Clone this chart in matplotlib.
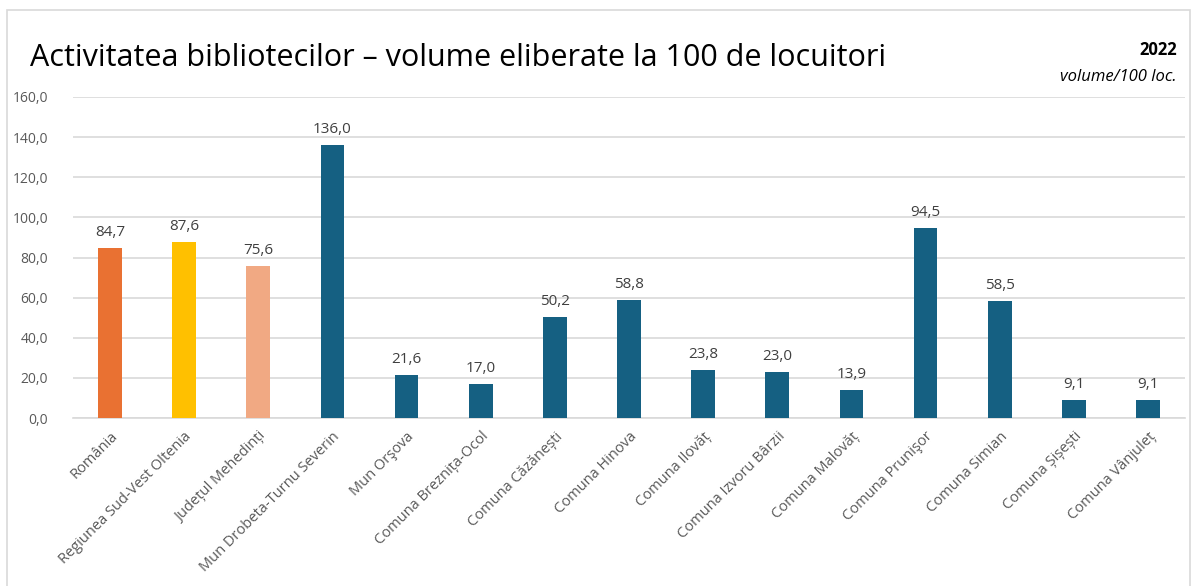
import matplotlib.pyplot as plt
from matplotlib.patches import Rectangle

categories = ["România", "Regiunea Sud-Vest Oltenia", "Județul Mehedinți",
              "Mun Drobeta-Turnu Severin", "Mun Orşova", "Comuna Breznița-Ocol",
              "Comuna Căzănești", "Comuna Hinova", "Comuna Ilovăț",
              "Comuna Izvoru Bârzii", "Comuna Malovăț", "Comuna Prunişor",
              "Comuna Simian", "Comuna Șișești", "Comuna Vânjuleț"]
values = [84.7, 87.6, 75.6, 136.0, 21.6, 17.0, 50.2, 58.8, 23.8, 23.0, 13.9, 94.5, 58.5, 9.1, 9.1]
colors = ["#E97132", "#FFC000", "#F1A983"] + ["#156082"] * 12
yticks = [0, 20, 40, 60, 80, 100, 120, 140, 160]

plt.rcParams['font.family'] = ['Open Sans', 'DejaVu Sans']

fig = plt.figure(figsize=(11.98, 5.86), dpi=100)
fig.patches.append(Rectangle((7 / 1198, -0.1), 1183 / 1198, 1 - 10 / 586 + 0.1,
                             transform=fig.transFigure, fill=False,
                             edgecolor="#D9D9D9", linewidth=1.2))

ax = fig.add_axes([73 / 1198, 1 - 418 / 586, 1112 / 1198, (418 - 97) / 586])
x = range(len(categories))
bars = ax.bar(x, values, width=0.32, color=colors, zorder=3)
for xi, v in zip(x, values):
    ax.text(xi, v + 4, f"{v:.1f}".replace(".", ","), ha="center", va="bottom",
            fontsize=11, color="#404040")

ax.set_xlim(-0.5, len(categories) - 0.5)
ax.set_ylim(0, 160)
ax.set_yticks(yticks)
ax.set_yticklabels([f"{t:.1f}".replace(".", ",") for t in yticks], fontsize=10, color="#595959")
ax.set_xticks(list(x))
ax.set_xticklabels(categories, rotation=45, ha="right", rotation_mode="anchor",
                   fontsize=10.5, color="#595959")
ax.tick_params(axis="both", length=0)
ax.tick_params(axis="y", pad=18)
ax.tick_params(axis="x", pad=8)
ax.grid(axis="y", color="#D9D9D9", linewidth=1.2, zorder=0)
for s in ["top", "right", "left"]:
    ax.spines[s].set_visible(False)
ax.spines["bottom"].set_color("#D9D9D9")
ax.spines["bottom"].set_linewidth(1.2)

fig.text(30 / 1198, 1 - 58 / 586, "Activitatea bibliotecilor – volume eliberate la 100 de locuitori",
         fontsize=22, color="black", va="center", ha="left")
fig.text(1177 / 1198, 1 - 50 / 586, "2022", fontsize=12, fontweight="bold",
         ha="right", va="center")
fig.text(1177 / 1198, 1 - 77 / 586, "volume/100 loc.", fontsize=12, style="italic",
         ha="right", va="center")

fig.savefig("out.png", dpi=100)
